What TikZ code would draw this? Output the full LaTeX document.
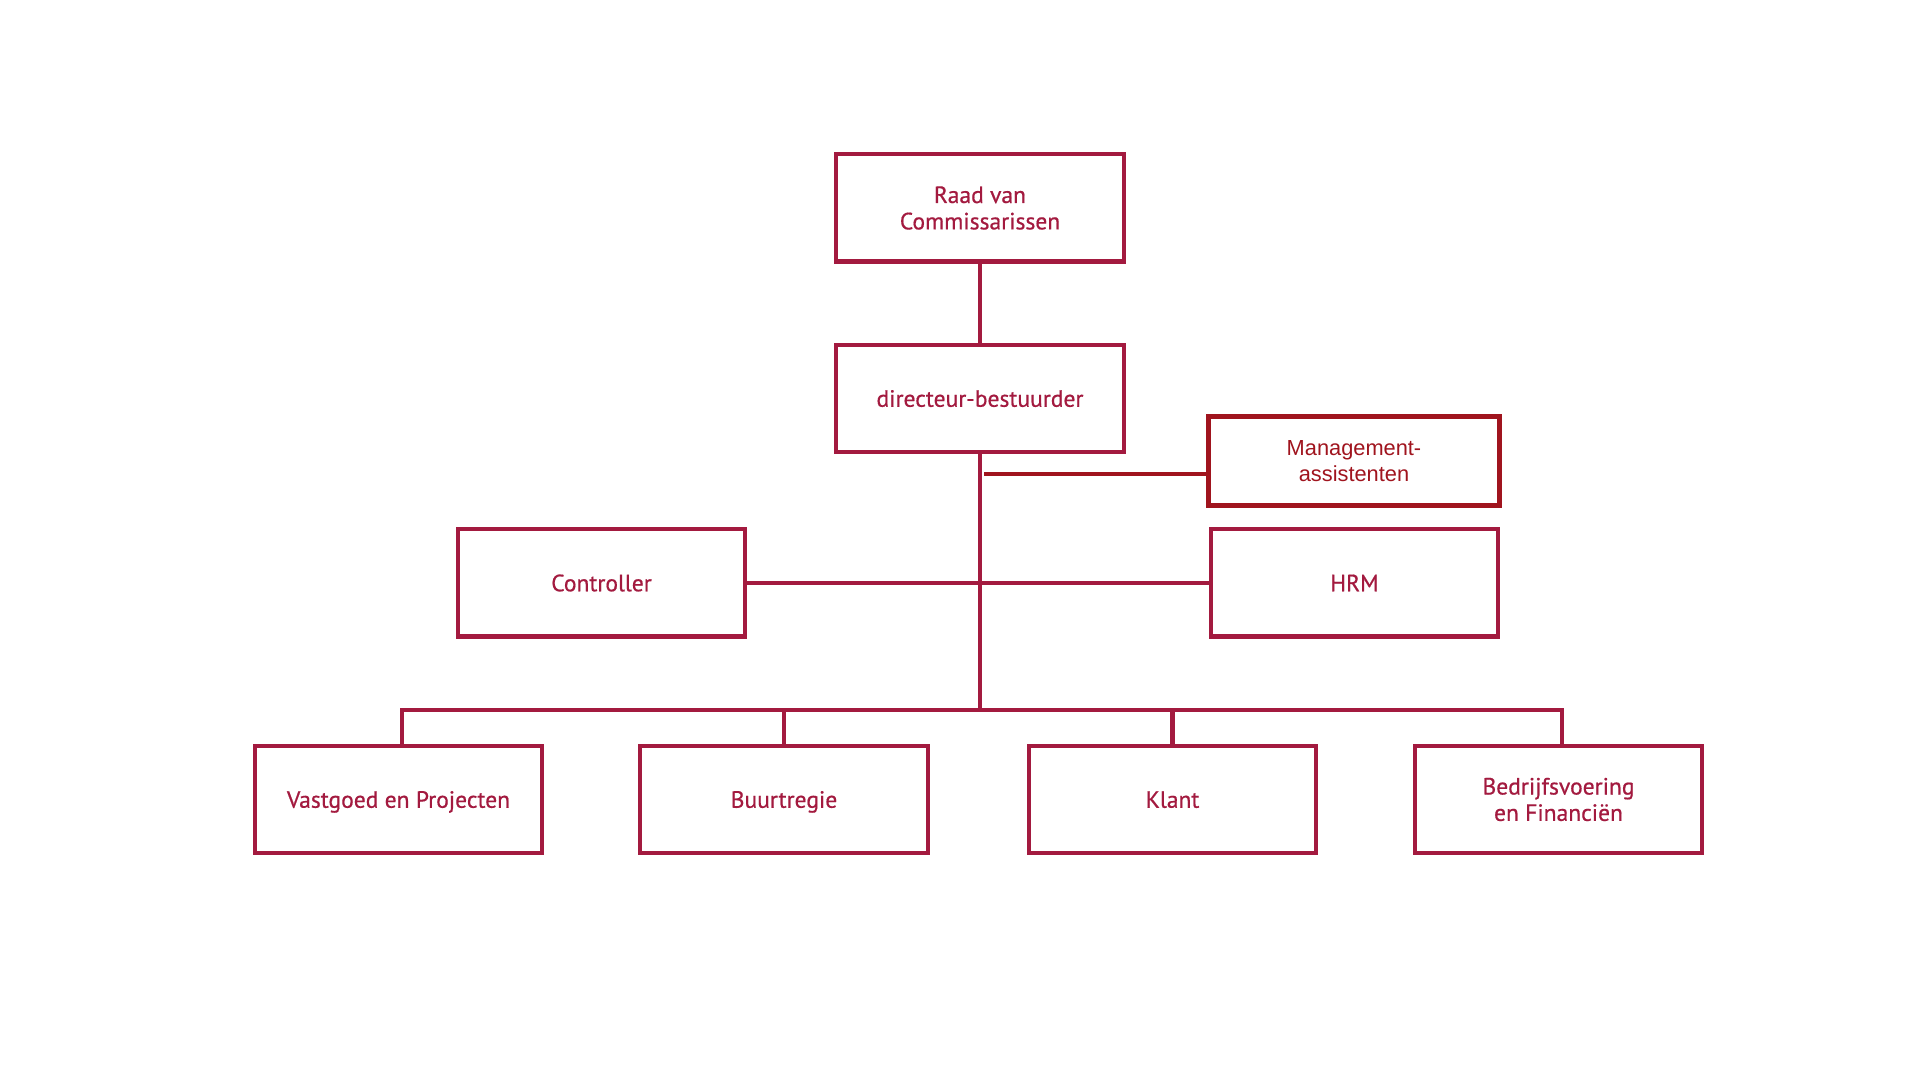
\documentclass[tikz,border=0pt]{standalone}
\usepackage{fontspec}
\setmainfont{PT Sans}[FakeBold=0.6]
\newfontfamily\mgmtfont{Liberation Sans}
\definecolor{brand}{HTML}{A31A3F}
\definecolor{mgmt}{HTML}{A0141E}
\begin{document}
\begin{tikzpicture}[x=0.01cm,y=-0.01cm,
  unit/.style={draw=brand,line width=1.15pt,fill=white,text=brand,
    minimum width=2.87cm,minimum height=1.07cm,align=center,
    font=\fontsize{6.7}{7.5}\selectfont,inner sep=0pt},
  one/.style={text height=1.32ex,text depth=0.38ex},
  mgmtbox/.style={draw=mgmt,line width=1.45pt,fill=white,text=mgmt,
    minimum width=2.90cm,minimum height=0.89cm,align=center,
    font=\mgmtfont\fontsize{6.2}{7.5}\selectfont,inner sep=0pt},
  link/.style={draw=brand,line width=1.15pt},
  mlink/.style={draw=mgmt,line width=1.3pt}]
\useasboundingbox[fill=white] (0,0) rectangle (1920,1080);
\node[unit] (raad) at (980,208) {Raad van\\Commissarissen};
\node[unit,one] (dir) at (980,398.5) {directeur-bestuurder};
\node[mgmtbox] (man) at (1354,461) {Management-\\assistenten};
\node[unit,one] (ctrl) at (601.5,583) {Controller};
\node[unit,one] (hrm) at (1354.5,583) {HRM};
\node[unit,one] (vast) at (398.5,799.5) {Vastgoed en Projecten};
\node[unit,one] (buur) at (784,799.5) {Buurtregie};
\node[unit,one] (klant) at (1172.5,799.5) {Klant};
\node[unit] (bedr) at (1558.5,799.5) {Bedrijfsvoering\\en Financiën};
\coordinate (bus) at (980,710);
\coordinate (mstart) at (984,474);
\draw[link] (raad) -- (dir);
\draw[link] (dir.south) -- (bus);
\draw[mlink] (mstart) -- (mstart -| man.west);
\draw[link] (ctrl.east) -- (hrm.west);
\draw[link] ([xshift=0.035cm]vast.north) |- (bus) -| ([xshift=0.035cm]bedr.north);
\draw[link] (buur.north) -- (buur.north |- bus);
\draw[link] (klant.north) -- (klant.north |- bus);
\end{tikzpicture}
\end{document}
